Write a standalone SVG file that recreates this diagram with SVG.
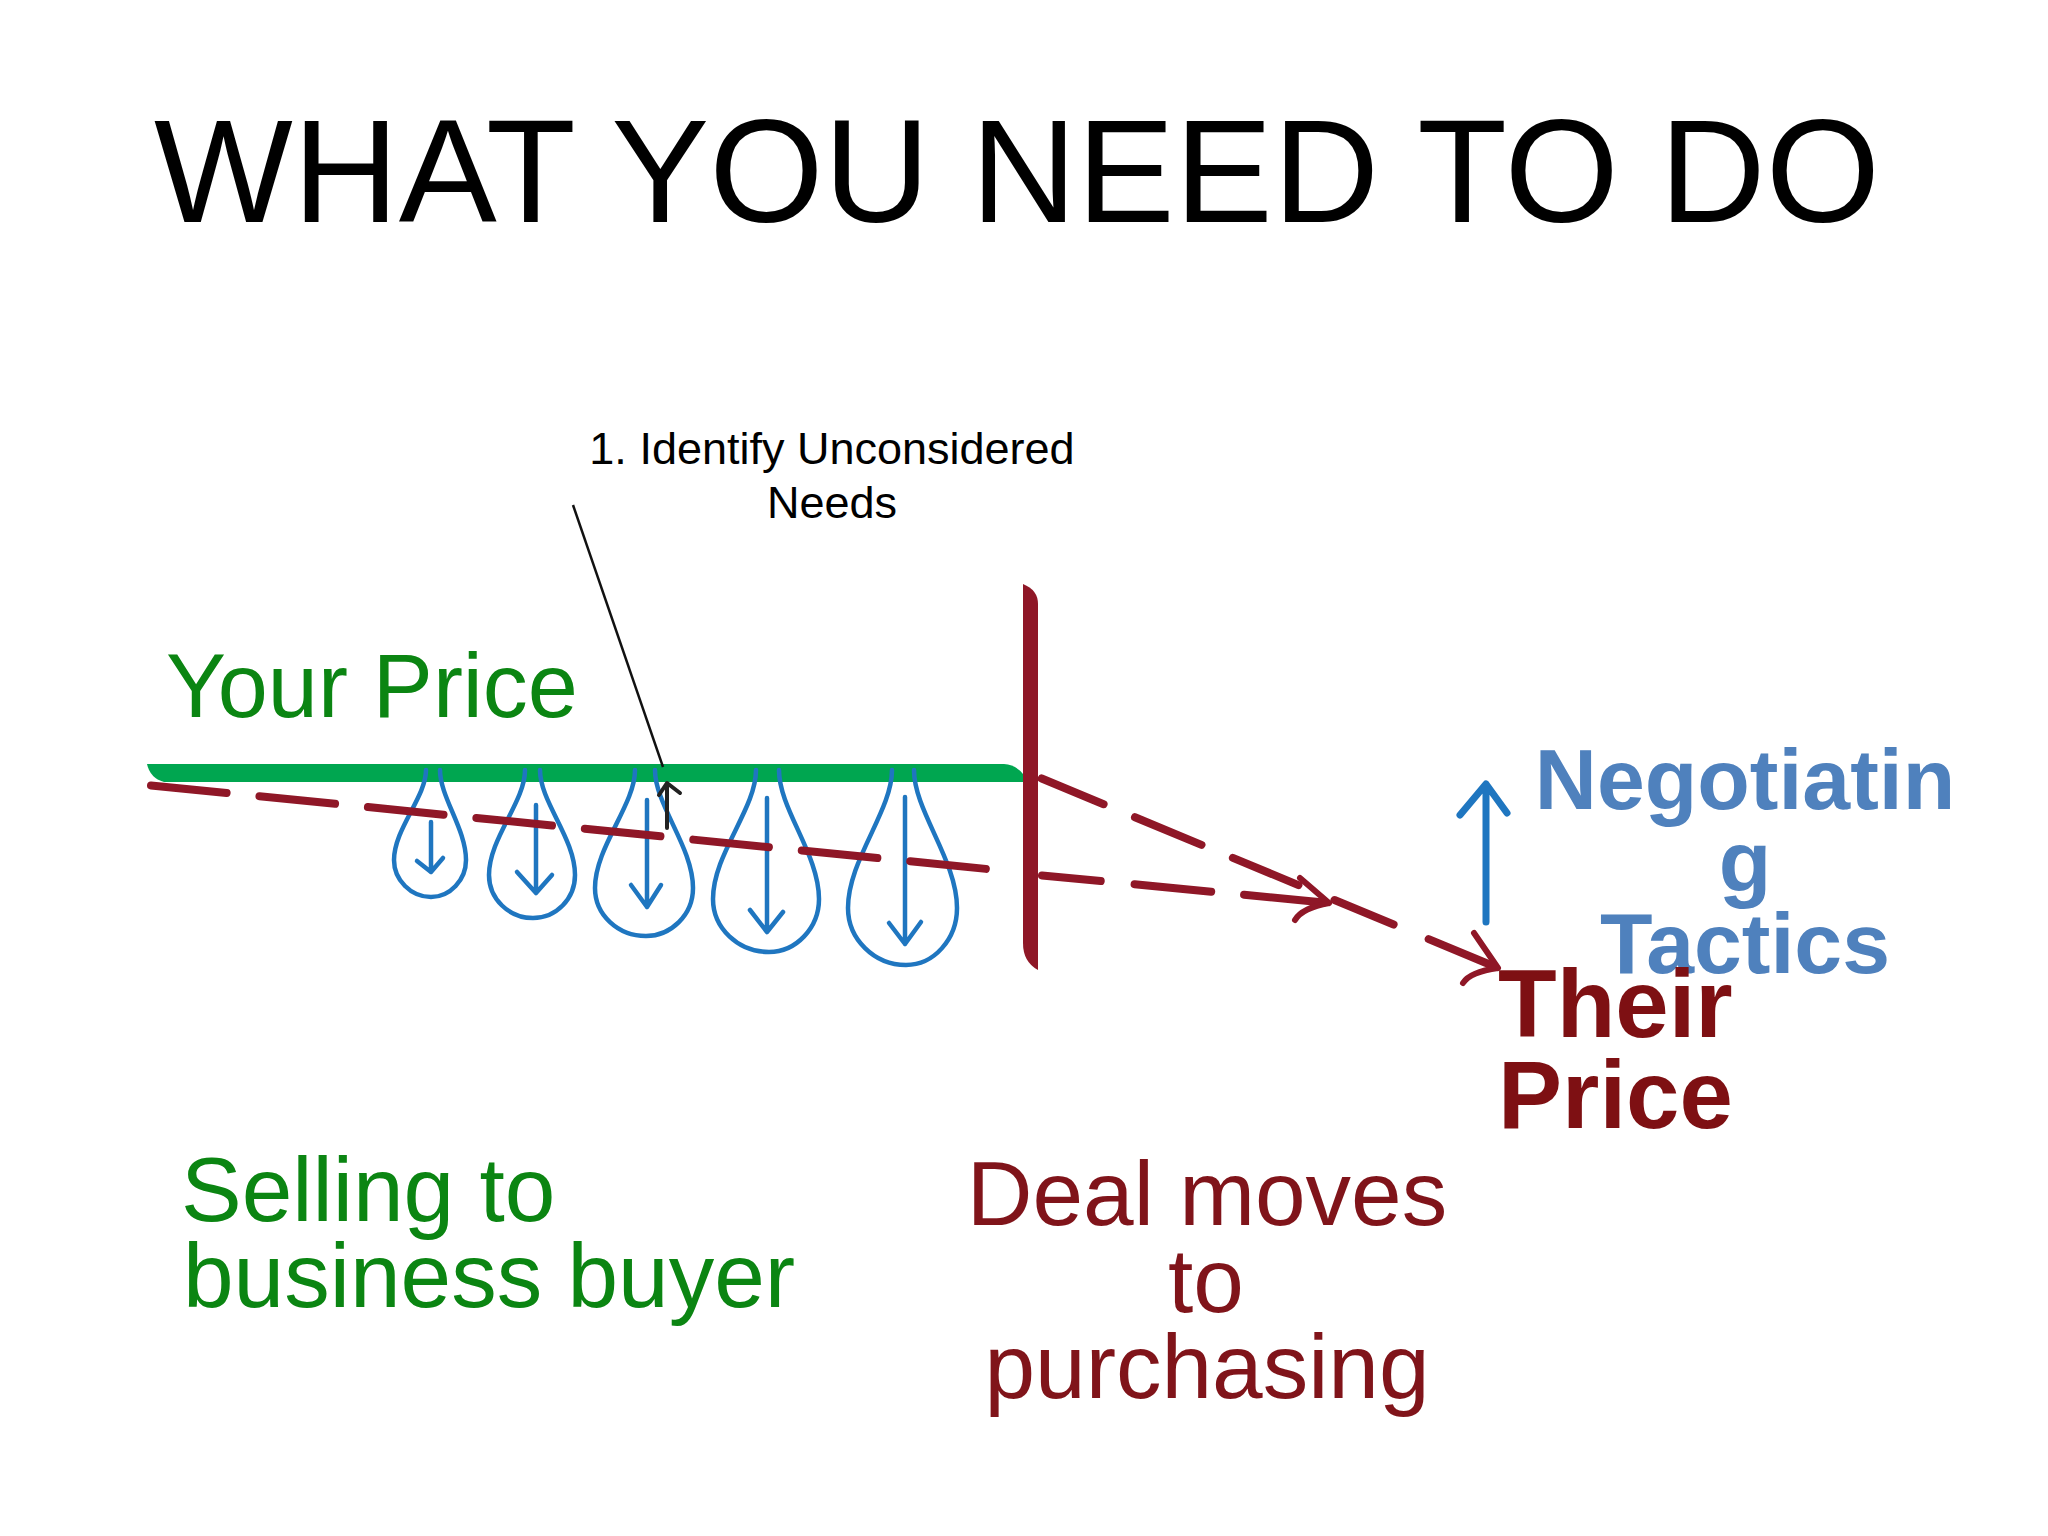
<svg xmlns="http://www.w3.org/2000/svg" width="2048" height="1536" viewBox="0 0 2048 1536">
<style>
.sans{font-family:"Liberation Sans",Arial,sans-serif}
.green{fill:#0b8512}
.dred{fill:#7e1013}
.nblue{fill:#4f81bd}
.drop{fill:none;stroke:#1f76c0;stroke-width:4.5;stroke-linecap:round;stroke-linejoin:round}
.dash{fill:none;stroke:#8f1727;stroke-width:8;stroke-linecap:round}
.head{fill:none;stroke:#8f1727;stroke-width:6;stroke-linecap:round;stroke-linejoin:round}
</style>
<rect width="2048" height="1536" fill="#ffffff"/>
<g id="title"><text class="sans" x="1017" y="222" font-size="147" text-anchor="middle" fill="#000">WHAT YOU NEED TO DO</text></g>
<g id="your-price-bar"><path d="M147,764 L1004,764 Q1016,765 1023,774 L1023,782 L164,782 Q150,778 147,764 Z" fill="#00a650"/></g>
<g id="your-price-label"><text class="sans green" x="166" y="717" font-size="90">Your Price</text></g>
<g id="drops">
<path class="drop" d="M426,770 C426,797 394,829 394,860 C394,880 411,897 431,897 C450,897 466,880 466,860 C466,829 440,797 440,770"/>
<path class="drop" d="M431,822 L431,872 M417,861 L431,872 L443,858"/>
<path class="drop" d="M525,770 C525,802 489,838 489,875 C489,899 509,918 533,918 C556,918 575,899 575,875 C575,838 540,802 540,770"/>
<path class="drop" d="M536,805 L536,893 M517,872 L536,893 L552,875"/>
<path class="drop" d="M635,770 C635,805 595,847 595,888 C595,915 618,936 646,936 C671,936 693,915 693,888 C693,847 655,805 655,770"/>
<path class="drop" d="M647,800 L647,907 M631,885 L647,907 L661,885"/>
<path class="drop" d="M756,770 C756,809 713,854 713,899 C713,928 738,952 769,952 C796,952 819,928 819,899 C819,854 779,809 779,770"/>
<path class="drop" d="M767,798 L767,932 M750,910 L767,932 L783,912"/>
<path class="drop" d="M892,770 C892,811 848,860 848,908 C848,939 874,965 906,965 C934,965 957,939 957,908 C957,860 914,811 914,770"/>
<path class="drop" d="M905,797 L905,944 M889,923 L905,944 L921,922"/>
</g>
<g id="purchasing-bar"><path d="M1023,584 Q1038,590 1038,604 L1038,970 Q1023,962 1023,943 Z" fill="#8f1727"/></g>
<g id="connectors">
<path class="dash" d="M151,785.4 L993,869.6" stroke-dasharray="76 33"/>
<path class="dash" d="M1042,875.4 L1325,902.6" stroke-dasharray="59 34 77 33 80 100"/>
<path class="head" d="M1300,878 L1329,903 M1295,920 Q1302,908 1329,903"/>
<path class="dash" d="M1041.7,778.5 L1493.4,966" stroke-dasharray="67 34 72 34 71 39 64 38 70 100"/>
<path class="head" d="M1474,933 L1498,968 M1463,983 Q1470,972 1498,968"/>
<path d="M573,505 L663,767" fill="none" stroke="#111" stroke-width="2.5"/>
<path d="M667,828 L667,784 M659,795 L667,783 L680,793" fill="none" stroke="#222" stroke-width="4" stroke-linecap="round" stroke-linejoin="round"/>
<path d="M1486,922 L1486,785 M1460,815 L1486,784 L1507,813" fill="none" stroke="#1f76c0" stroke-width="7" stroke-linecap="round" stroke-linejoin="round"/>
</g>
<g id="needs-label"><text class="sans" font-size="45" text-anchor="middle" fill="#000"><tspan x="832" y="464">1. Identify Unconsidered</tspan><tspan x="832" y="518">Needs</tspan></text></g>
<g id="negotiating-label"><text class="sans nblue" font-size="86" font-weight="bold" text-anchor="middle"><tspan x="1745" y="809">Negotiatin</tspan><tspan x="1745" y="891">g</tspan><tspan x="1745" y="973">Tactics</tspan></text></g>
<g id="their-price-label"><text class="sans dred" font-size="96" font-weight="bold"><tspan x="1498" y="1037">Their</tspan><tspan x="1498" y="1128">Price</tspan></text></g>
<g id="selling-label"><text class="sans green" font-size="91"><tspan x="181" y="1221">Selling to</tspan><tspan x="183" y="1307">business buyer</tspan></text></g>
<g id="deal-label"><text class="sans" font-size="91" text-anchor="middle" fill="#80141a"><tspan x="1207" y="1225">Deal moves</tspan><tspan x="1206" y="1312">to</tspan><tspan x="1207" y="1398">purchasing</tspan></text></g>
</svg>
